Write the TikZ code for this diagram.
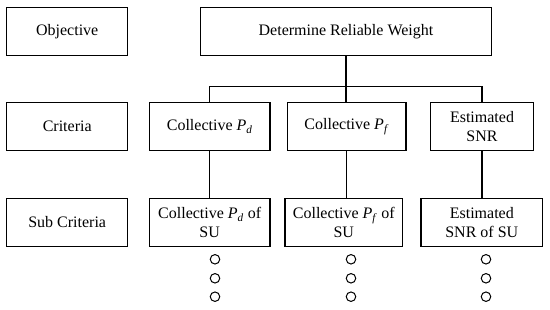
\documentclass[tikz,border=0pt]{standalone}
\usepackage{fontspec}
\setmainfont{Liberation Serif}

\begin{document}
\begin{tikzpicture}[x=1pt, y=-1pt, line width=1.2pt,
	every node/.style={font=\fontsize{16}{18.4}\selectfont},
	box/.style={draw, minimum height=48pt, inner sep=2pt, align=center},
	dot/.style={draw, circle, line width=1pt, inner sep=0pt, minimum size=9.5pt}]
	\useasboundingbox (0,0) rectangle (550,310);
	% level labels
	\node[box, minimum width=121pt] (obj) at (67.2,31.2) {Objective};
	\node[box, minimum width=121pt] (crit) at (67.2,126.7) {Criteria};
	\node[box, minimum width=121pt] (sub) at (67.2,222.5) {Sub Criteria};
	% objective
	\node[box, minimum width=290.6pt] (goal) at (346,31.2) {Determine Reliable Weight};
	% criteria
	\node[box, minimum width=120.7pt] (cpd) at (209.7,126.7) {Collective \textit{P}\textsubscript{\textit{d}}};
	\node[box, minimum width=118.7pt] (cpf) at (346.7,126.7) {Collective \textit{P}\textsubscript{\textit{f}}};
	\node[box, minimum width=102.6pt] (csnr) at (482,126.7) {Estimated\\SNR};
	% sub criteria
	\node[box, minimum width=120.7pt] (spd) at (209.7,222.5) {Collective \textit{P}\textsubscript{\textit{d}} of\\SU};
	\node[box, minimum width=117.7pt] (spf) at (343.8,222.5) {Collective \textit{P}\textsubscript{\textit{f}} of\\SU};
	\node[box, minimum width=121.7pt] (ssnr) at (481.8,222.5) {Estimated\\SNR of SU};
	% connectors
	\draw (goal.south) -- (goal.south |- cpf.north);
	\draw (cpd.north) -- ++(0,-15.4) -| (csnr.north);
	\draw (cpd.south) -- (spd.north);
	\draw (cpf.south) -- (cpf.south |- spf.north);
	\draw (csnr.south) -- (csnr.south |- ssnr.north);
	% continuation marks
	\foreach \c/\x in {pd/215, pf/351, snr/486}
		\foreach \i/\y in {1/259.3, 2/278.3, 3/296.7}
			\node[dot] (dot-\c-\i) at (\x,\y) {};
\end{tikzpicture}
\end{document}
